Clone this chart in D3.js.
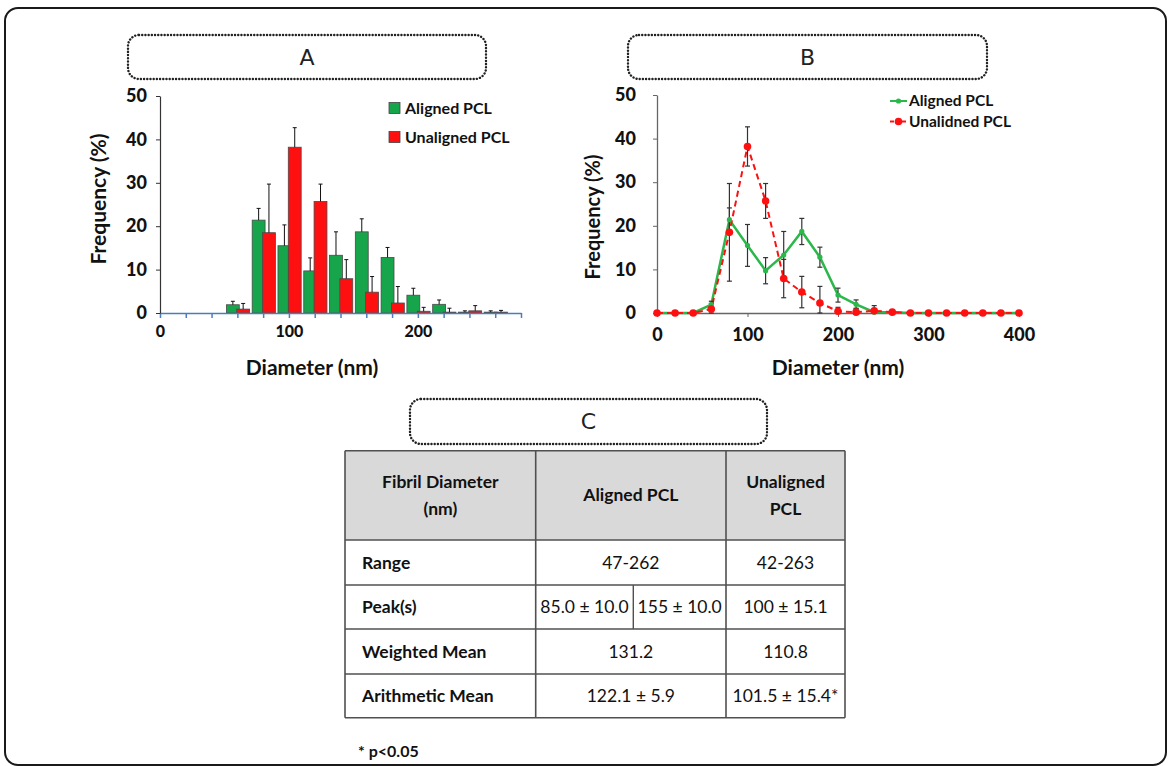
<!DOCTYPE html>
<html>
<head>
<meta charset="utf-8">
<script src="https://cdn.jsdelivr.net/npm/d3@7"></script>
<style>
  body { margin: 0; background: #fff; }
  svg { display: block; }
</style>
</head>
<body>
<div id="fig"></div>
<script>
// fibril diameter bins (nm) and frequencies (%)
const diameters = [0, 20, 40, 60, 80, 100, 120, 140, 160, 180, 200, 220, 240, 260, 280, 300, 320, 340, 360, 380, 400];
const alignedFreq = [0, 0, 0, 1.9, 21.4, 15.5, 9.7, 13.3, 18.7, 12.8, 4.1, 2.0, 0.2, 0.2, 0, 0, 0, 0, 0, 0, 0];
const alignedErr = [0, 0, 0, 0.8, 2.7, 4.8, 3.0, 5.4, 3.0, 2.3, 1.6, 1.0, 0.3, 0.3, 0, 0, 0, 0, 0, 0, 0];
const unalignedFreq = [0, 0, 0, 0.9, 18.5, 38.2, 25.7, 7.9, 4.8, 2.3, 0.4, 0.2, 0.5, 0.2, 0, 0, 0, 0, 0, 0, 0];
const unalignedErr = [0, 0, 0, 1.3, 11.2, 4.5, 4.0, 4.4, 3.6, 3.8, 0.9, 0.9, 1.2, 0.4, 0, 0, 0, 0, 0, 0, 0];

const yTicks = [0, 10, 20, 30, 40, 50];
const xTicksA = [0, 20, 40, 60, 80, 100, 120, 140, 160, 180, 200, 220, 240, 260, 280];
const xTicksB = [0, 100, 200, 300, 400];

// table C
const tableHeader = [["Fibril Diameter", "(nm)"], ["Aligned PCL"], ["Unaligned", "PCL"]];
const rowLabels = ["Range", "Peak(s)", "Weighted Mean", "Arithmetic Mean"];
const alignedCells = [["47-262"], ["85.0 \u00b1 10.0", "155 \u00b1 10.0"], ["131.2"], ["122.1 \u00b1 5.9"]];
const unalignedCells = ["42-263", "100 \u00b1 15.1", "110.8", "101.5 \u00b1 15.4*"];

const data = diameters.map((d, i) => ({
    d,
    a: alignedFreq[i], ae: alignedErr[i],
    u: unalignedFreq[i], ue: unalignedErr[i]
}));

const green = "#16a54b";
const greenLine = "#2bb84a";
const red = "#ff1010";
const font = "Lato, 'Open Sans', sans-serif";

const svg = d3.select("#fig").append("svg")
              .attr("width", 1169)
              .attr("height", 766)
              .style("font-family", font);

// outer frame
svg.append("rect")
   .attr("x", 5).attr("y", 8)
   .attr("width", 1161).attr("height", 757)
   .attr("rx", 13)
   .attr("fill", "none")
   .attr("stroke", "#1a1a1a")
   .attr("stroke-width", 2);

// dotted panel labels
function panelBox(x, y, w, h, label) {
    svg.append("rect")
       .attr("x", x).attr("y", y)
       .attr("width", w).attr("height", h)
       .attr("rx", 11)
       .attr("fill", "none")
       .attr("stroke", "#222")
       .attr("stroke-width", 2.4)
       .attr("stroke-linecap", "round")
       .attr("stroke-dasharray", "0.1 3.1");
    svg.append("text")
       .attr("x", x + w / 2).attr("y", y + h / 2)
       .attr("dy", "0.36em")
       .attr("text-anchor", "middle")
       .style("font-family", "'DejaVu Sans', sans-serif")
       .style("font-size", "22px")
       .attr("fill", "#222")
       .text(label);
}
panelBox(128, 35, 358, 44, "A");
panelBox(628, 35, 359, 44, "B");
panelBox(410, 399, 357, 45, "C");

// ---------- panel A: bar chart ----------
const xA = d3.scaleLinear().domain([0, 280]).range([160, 521]);
const yA = d3.scaleLinear().domain([0, 50]).range([313, 96]);
const gA = svg.append("g");

const barData = data.filter(r => r.d >= 60 && r.d <= 260);

gA.append("g").selectAll("rect")
  .data(barData)
  .join("rect")
  .attr("x", r => xA(r.d - 8.5))
  .attr("width", r => xA(r.d + 1.5) - xA(r.d - 8.5))
  .attr("y", r => yA(r.a))
  .attr("height", r => yA(0) - yA(r.a))
  .attr("fill", green)
  .attr("stroke", "#4a4a4a")
  .attr("stroke-width", 0.8);

gA.append("g").selectAll("rect")
  .data(barData)
  .join("rect")
  .attr("x", r => xA(r.d - 0.5))
  .attr("width", r => xA(r.d + 9.5) - xA(r.d - 0.5))
  .attr("y", r => yA(r.u))
  .attr("height", r => yA(0) - yA(r.u))
  .attr("fill", red)
  .attr("stroke", "#4a4a4a")
  .attr("stroke-width", 0.8);

// one-sided error bars
function upBars(g, key, errKey, offset) {
    const sel = g.append("g").selectAll("g")
                 .data(barData.filter(r => r[errKey] > 0))
                 .join("g")
                 .attr("stroke", "#111")
                 .attr("stroke-width", 1);
    sel.append("line")
       .attr("x1", r => xA(r.d + offset)).attr("x2", r => xA(r.d + offset))
       .attr("y1", r => yA(r[key])).attr("y2", r => yA(r[key] + r[errKey]));
    sel.append("line")
       .attr("x1", r => xA(r.d + offset) - 2).attr("x2", r => xA(r.d + offset) + 2)
       .attr("y1", r => yA(r[key] + r[errKey])).attr("y2", r => yA(r[key] + r[errKey]));
}
upBars(gA, "a", "ae", -3.5);
upBars(gA, "u", "ue", 4.5);

// axes A
const axisXA = gA.append("g")
                 .attr("transform", `translate(0,${yA(0)})`)
                 .call(d3.axisBottom(xA)
                         .tickValues(xTicksA)
                         .tickSize(5)
                         .tickSizeOuter(0)
                         .tickPadding(8)
                         .tickFormat(d => d % 100 === 0 ? d : ""));
axisXA.select(".domain").attr("stroke", "#4a7ebb").attr("stroke-width", 1.5);
axisXA.selectAll(".tick line").attr("stroke", "#4a7ebb").attr("stroke-width", 1.5);
axisXA.selectAll("text")
      .style("font-family", font).style("font-size", "16px").style("font-weight", "900")
      .attr("fill", "#111");

const axisYA = gA.append("g")
                 .attr("transform", `translate(${xA(0)},0)`)
                 .call(d3.axisLeft(yA).tickValues(yTicks).tickSize(4).tickSizeOuter(0).tickPadding(9));
axisYA.select(".domain").attr("stroke", "#333").attr("stroke-width", 1.2);
axisYA.selectAll(".tick line").attr("stroke", "#333");
axisYA.selectAll("text")
      .style("font-family", font).style("font-size", "18px").style("font-weight", "900")
      .attr("fill", "#111");

gA.append("text")
  .attr("transform", "translate(99,199) rotate(-90)")
  .attr("text-anchor", "middle").attr("dy", "0.35em")
  .style("font-size", "21px").style("font-weight", "bold")
  .attr("fill", "#111")
  .text("Frequency (%)");
gA.append("text")
  .attr("x", 312).attr("y", 368)
  .attr("text-anchor", "middle").attr("dy", "0.35em")
  .style("font-size", "21px").style("font-weight", "bold")
  .attr("fill", "#111")
  .text("Diameter (nm)");

// legend A
const legA = gA.append("g");
[["Aligned PCL", green, 108], ["Unaligned PCL", red, 137]].forEach(([name, col, cy]) => {
    legA.append("rect")
        .attr("x", 389).attr("y", cy - 5.5)
        .attr("width", 11).attr("height", 11)
        .attr("fill", col).attr("stroke", "#444").attr("stroke-width", 0.8);
    legA.append("text")
        .attr("x", 405).attr("y", cy).attr("dy", "0.35em")
        .style("font-size", "16px").style("font-weight", "bold")
        .attr("fill", "#111")
        .text(name);
});

// ---------- panel B: line chart ----------
const xB = d3.scaleLinear().domain([0, 400]).range([657, 1019]);
const yB = d3.scaleLinear().domain([0, 50]).range([313, 95]);
const gB = svg.append("g");

const axisXB = gB.append("g")
                 .attr("transform", `translate(0,${yB(0)})`)
                 .call(d3.axisBottom(xB).tickValues(xTicksB).tickSize(4).tickSizeOuter(0).tickPadding(11));
axisXB.select(".domain").attr("stroke", "#666").attr("stroke-width", 1.3);
axisXB.selectAll(".tick line").attr("stroke", "#666");
axisXB.selectAll("text")
      .style("font-family", font).style("font-size", "18px").style("font-weight", "900")
      .attr("fill", "#111");

const axisYB = gB.append("g")
                 .attr("transform", `translate(${xB(0)},0)`)
                 .call(d3.axisLeft(yB).tickValues(yTicks).tickSize(4).tickSizeOuter(0).tickPadding(17));
axisYB.select(".domain").attr("stroke", "#666").attr("stroke-width", 1.3);
axisYB.selectAll(".tick line").attr("stroke", "#666");
axisYB.selectAll("text")
      .style("font-family", font).style("font-size", "18px").style("font-weight", "900")
      .attr("fill", "#111");

gB.append("text")
  .attr("transform", "translate(593,217) rotate(-90)")
  .attr("text-anchor", "middle").attr("dy", "0.35em")
  .style("font-size", "20px").style("font-weight", "bold")
  .attr("fill", "#111")
  .text("Frequency (%)");
gB.append("text")
  .attr("x", 838).attr("y", 368)
  .attr("text-anchor", "middle").attr("dy", "0.35em")
  .style("font-size", "21px").style("font-weight", "bold")
  .attr("fill", "#111")
  .text("Diameter (nm)");

const lineA = d3.line().x(r => xB(r.d)).y(r => yB(r.a));
const lineU = d3.line().x(r => xB(r.d)).y(r => yB(r.u));

gB.append("path")
  .datum(data)
  .attr("d", lineA)
  .attr("fill", "none")
  .attr("stroke", greenLine)
  .attr("stroke-width", 2.5);
gB.append("path")
  .datum(data)
  .attr("d", lineU)
  .attr("fill", "none")
  .attr("stroke", red)
  .attr("stroke-width", 2)
  .attr("stroke-dasharray", "6 4");

// two-sided error bars
function errBars(g, key, errKey) {
    const sel = g.append("g").selectAll("g")
                 .data(data.filter(r => r[errKey] > 0))
                 .join("g")
                 .attr("stroke", "#333")
                 .attr("stroke-width", 1.2);
    sel.append("line")
       .attr("x1", r => xB(r.d)).attr("x2", r => xB(r.d))
       .attr("y1", r => yB(Math.max(0, r[key] - r[errKey]))).attr("y2", r => yB(r[key] + r[errKey]));
    [-1, 1].forEach(s => {
        sel.append("line")
           .attr("x1", r => xB(r.d) - 2.5).attr("x2", r => xB(r.d) + 2.5)
           .attr("y1", r => yB(Math.max(0, r[key] + s * r[errKey])))
           .attr("y2", r => yB(Math.max(0, r[key] + s * r[errKey])));
    });
}
errBars(gB, "a", "ae");
errBars(gB, "u", "ue");

gB.append("g").selectAll("circle")
  .data(data)
  .join("circle")
  .attr("cx", r => xB(r.d)).attr("cy", r => yB(r.a))
  .attr("r", 2.6)
  .attr("fill", greenLine);
gB.append("g").selectAll("circle")
  .data(data)
  .join("circle")
  .attr("cx", r => xB(r.d)).attr("cy", r => yB(r.u))
  .attr("r", 3.8)
  .attr("fill", red);

// legend B
const legB = gB.append("g");
[["Aligned PCL", greenLine, 101, null, 2.6], ["Unalidned PCL", red, 121.5, "4 2", 3.8]].forEach(([name, col, cy, dash, r]) => {
    legB.append("line")
        .attr("x1", 890).attr("x2", 907)
        .attr("y1", cy).attr("y2", cy)
        .attr("stroke", col).attr("stroke-width", 2)
        .attr("stroke-dasharray", dash);
    legB.append("circle")
        .attr("cx", 898.5).attr("cy", cy).attr("r", r)
        .attr("fill", col);
    legB.append("text")
        .attr("x", 909).attr("y", cy).attr("dy", "0.35em")
        .style("font-size", "15.5px").style("font-weight", "bold")
        .attr("fill", "#111")
        .text(name);
});

// ---------- table C ----------
const colX = [345, 535.7, 726, 845];
const rowY = [450.7, 540, 585, 629, 674, 717.7];
const peakSplit = 633.3;
const gT = svg.append("g");

gT.append("rect")
  .attr("x", colX[0]).attr("y", rowY[0])
  .attr("width", colX[3] - colX[0]).attr("height", rowY[1] - rowY[0])
  .attr("fill", "#d9d9d9");

const gridColor = "#505050";
rowY.forEach(y => {
    gT.append("line")
      .attr("x1", colX[0]).attr("x2", colX[3])
      .attr("y1", y).attr("y2", y)
      .attr("stroke", gridColor).attr("stroke-width", 1.6);
});
colX.forEach(x => {
    gT.append("line")
      .attr("x1", x).attr("x2", x)
      .attr("y1", rowY[0]).attr("y2", rowY[5])
      .attr("stroke", gridColor).attr("stroke-width", 1.6);
});
gT.append("line")
  .attr("x1", peakSplit).attr("x2", peakSplit)
  .attr("y1", rowY[2]).attr("y2", rowY[3])
  .attr("stroke", gridColor).attr("stroke-width", 1.4);

function cellText(x, y, lines, bold, anchor) {
    const t = gT.append("text")
                .attr("x", x)
                .attr("text-anchor", anchor || "middle")
                .style("font-size", "17.5px")
                .style("font-weight", bold ? "bold" : "normal")
                .attr("fill", "#111");
    const lh = 27;
    const y0 = y - (lines.length - 1) * lh / 2;
    lines.forEach((s, i) => {
        t.append("tspan")
         .attr("x", x).attr("y", y0 + i * lh).attr("dy", "0.35em")
         .text(s);
    });
}

const headMid = (rowY[0] + rowY[1]) / 2;
tableHeader.forEach((lines, i) => {
    cellText((colX[i] + colX[i + 1]) / 2, headMid, lines, true);
});
rowLabels.forEach((lab, i) => {
    const cy = (rowY[i + 1] + rowY[i + 2]) / 2;
    cellText(362, cy, [lab], true, "start");
    const cells = alignedCells[i];
    if (cells.length === 2) {
        cellText((colX[1] + peakSplit) / 2, cy, [cells[0]], false);
        cellText((peakSplit + colX[2]) / 2, cy, [cells[1]], false);
    } else {
        cellText((colX[1] + colX[2]) / 2, cy, [cells[0]], false);
    }
    cellText((colX[2] + colX[3]) / 2, cy, [unalignedCells[i]], false);
});

gT.append("text")
  .attr("x", 358).attr("y", 751).attr("dy", "0.35em")
  .style("font-size", "16px").style("font-weight", "bold")
  .attr("fill", "#111")
  .text("* p<0.05");
</script>
</body>
</html>
